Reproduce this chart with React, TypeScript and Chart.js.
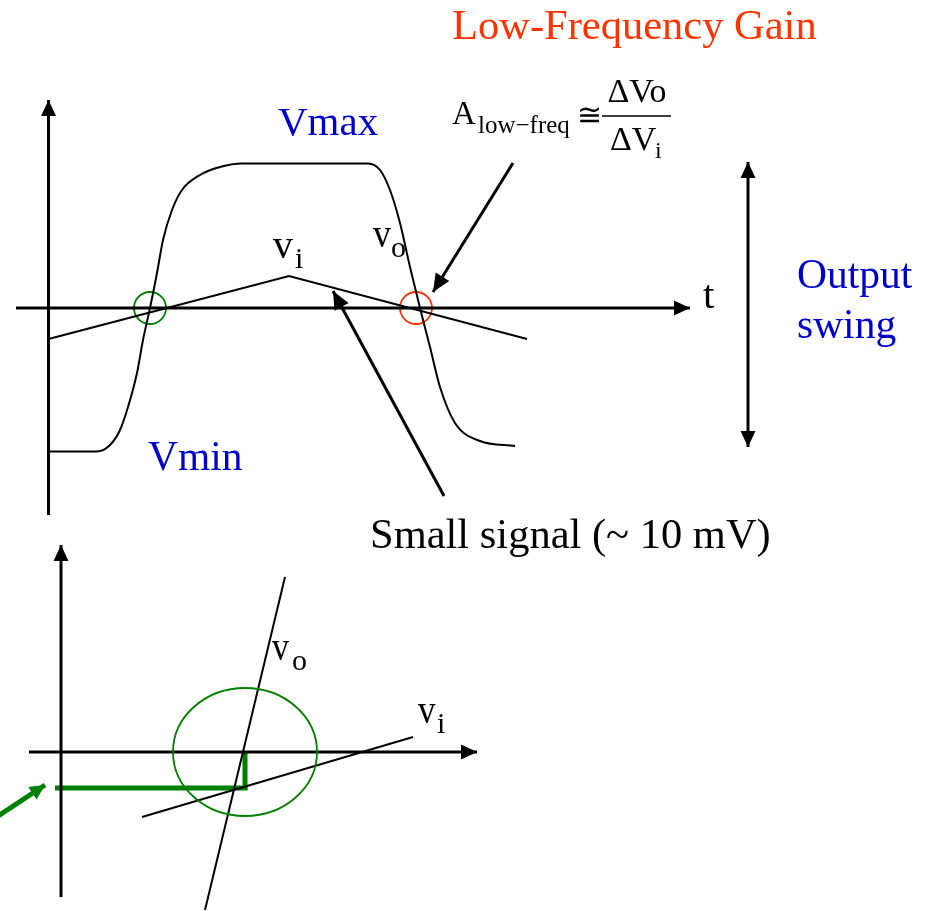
import React, { useEffect, useRef } from "react";
import { Chart, registerables } from "chart.js";

Chart.register(...registerables);

type P = { x: number; y: number };

// ---- Upper diagram: time-domain waveforms (diagram units, y grows downward) ----
const upperYAxis: P[] = [{ x: 48.5, y: 515 }, { x: 48.5, y: 100 }];
const upperTAxis: P[] = [{ x: 16, y: 308 }, { x: 690, y: 308 }];
const outputVo: P[] = [
  { x: 48.5, y: 451.5 }, { x: 96.7, y: 451.5 }, { x: 110, y: 445 }, { x: 120, y: 430 },
  { x: 128, y: 407 }, { x: 137, y: 373 }, { x: 143, y: 340 }, { x: 150, y: 308 },
  { x: 157, y: 273 }, { x: 163, y: 240 }, { x: 172, y: 210 }, { x: 182, y: 190 },
  { x: 200, y: 175 }, { x: 220, y: 167 }, { x: 242, y: 163.5 }, { x: 368, y: 163.5 },
  { x: 380, y: 170 }, { x: 390, y: 190 }, { x: 400, y: 223 }, { x: 410, y: 267 },
  { x: 420, y: 308 }, { x: 430, y: 347 }, { x: 440, y: 387 }, { x: 455, y: 423 },
  { x: 480, y: 441 }, { x: 515, y: 446 },
];
const inputVi: P[] = [{ x: 48.5, y: 339 }, { x: 289, y: 276 }, { x: 527, y: 339 }];
const gainArrow: P[] = [{ x: 513, y: 163 }, { x: 433, y: 292 }];
const smallSignalArrow: P[] = [{ x: 444, y: 496 }, { x: 333, y: 291 }];
const swingArrow: P[] = [{ x: 748, y: 447 }, { x: 748, y: 162 }];
const crossingGreen: P[] = [{ x: 150, y: 308 }];
const crossingRed: P[] = [{ x: 416, y: 308 }];

// ---- Lower diagram: transfer view ----
const lowerYAxis: P[] = [{ x: 61, y: 897 }, { x: 61, y: 545 }];
const lowerXAxis: P[] = [{ x: 29, y: 752 }, { x: 477, y: 752 }];
const transferVo: P[] = [{ x: 205, y: 910 }, { x: 285, y: 577 }];
const transferVi: P[] = [{ x: 142, y: 817 }, { x: 413, y: 737 }];
const stepHorizontal: P[] = [{ x: 55, y: 788 }, { x: 247.5, y: 788 }];
const stepVertical: P[] = [{ x: 245, y: 752 }, { x: 245, y: 790 }];
const greenPointer: P[] = [{ x: -2, y: 816 }, { x: 45, y: 785 }];
const ellipseCenter: P = { x: 245, y: 752 };
const ellipseRadii: P = { x: 72, y: 64 };

const SERIF = '"Liberation Serif", "Times New Roman", serif';
const BLUE = "#0000CC";
const ORANGE = "#FF3300";
const GREEN = "#008000";

type Label = { text: string; x: number; y: number; size: number; color: string; align?: CanvasTextAlign; base?: CanvasTextBaseline; sy?: number };
const labels: Label[] = [
  { text: "Low-Frequency Gain", x: 452, y: 39, size: 42.5, color: ORANGE },
  { text: "Vmax", x: 278, y: 135, size: 41, color: BLUE },
  { text: "Vmin", x: 148, y: 470, size: 41.5, color: BLUE },
  { text: "Output", x: 797, y: 288, size: 41.5, color: BLUE },
  { text: "swing", x: 797, y: 338, size: 41.5, color: BLUE },
  { text: "t", x: 703, y: 308, size: 41, color: "#000" },
  { text: "Small signal (~ 10 mV)", x: 370, y: 548, size: 42.5, color: "#000" },
  { text: "v", x: 373, y: 247, size: 36, color: "#000", sy: 1.1 },
  { text: "o", x: 391, y: 257, size: 30, color: "#000" },
  { text: "v", x: 273, y: 258, size: 40, color: "#000" },
  { text: "i", x: 295, y: 268, size: 30, color: "#000" },
  { text: "v", x: 272, y: 660, size: 34, color: "#000", sy: 1.15 },
  { text: "o", x: 292, y: 670, size: 30, color: "#000" },
  { text: "v", x: 418, y: 723, size: 35, color: "#000", sy: 1.15 },
  { text: "i", x: 437, y: 733, size: 30, color: "#000" },
  { text: "A", x: 452, y: 124, size: 33, color: "#000" },
  { text: "low\u2212freq", x: 478, y: 133, size: 25, color: "#000" },
  { text: "\u2245", x: 577, y: 117, size: 30, color: "#000", base: "middle" },
  { text: "\u0394Vo", x: 637, y: 102, size: 34, color: "#000", align: "center" },
  { text: "\u0394V", x: 610, y: 150, size: 34, color: "#000" },
  { text: "i", x: 655, y: 158, size: 24, color: "#000" },
];
const fractionBar: P[] = [{ x: 602, y: 116 }, { x: 671, y: 116 }];

function lineSet(data: P[], color: string, width: number, extra: any = {}) {
  return {
    data,
    showLine: true,
    borderColor: color,
    backgroundColor: color,
    borderWidth: width,
    pointRadius: 0,
    pointHoverRadius: 0,
    fill: false,
    ...extra,
  };
}

const annotationPlugin = {
  id: "diagramAnnotations",
  afterDatasetsDraw(chart: any) {
    const ctx: CanvasRenderingContext2D = chart.ctx;
    const xs = chart.scales.x;
    const ys = chart.scales.y;
    const px = (p: P) => ({ x: xs.getPixelForValue(p.x), y: ys.getPixelForValue(p.y) });

    // arrowheads
    chart.data.datasets.forEach((ds: any, i: number) => {
      if (!ds.arrow) return;
      const pts = chart.getDatasetMeta(i).data;
      const heads: [any, any][] = [];
      heads.push([pts[pts.length - 2], pts[pts.length - 1]]);
      if (ds.arrow === "both") heads.push([pts[1], pts[0]]);
      const L = ds.headLen || 16;
      const W = ds.headHalf || 7.5;
      heads.forEach(([a, b]) => {
        const dx = b.x - a.x;
        const dy = b.y - a.y;
        const d = Math.hypot(dx, dy) || 1;
        const ux = dx / d, uy = dy / d;
        const bx = b.x - ux * L, by = b.y - uy * L;
        ctx.save();
        ctx.fillStyle = ds.borderColor;
        ctx.beginPath();
        ctx.moveTo(b.x, b.y);
        ctx.lineTo(bx - uy * W, by + ux * W);
        ctx.lineTo(bx + uy * W, by - ux * W);
        ctx.closePath();
        ctx.fill();
        ctx.restore();
      });
    });

    // green ellipse
    const c = px(ellipseCenter);
    const rx = Math.abs(xs.getPixelForValue(ellipseCenter.x + ellipseRadii.x) - c.x);
    const ry = Math.abs(ys.getPixelForValue(ellipseCenter.y + ellipseRadii.y) - c.y);
    ctx.save();
    ctx.strokeStyle = GREEN;
    ctx.lineWidth = 1.8;
    ctx.beginPath();
    ctx.ellipse(c.x, c.y, rx, ry, 0, 0, Math.PI * 2);
    ctx.stroke();
    ctx.restore();

    // fraction bar
    const f0 = px(fractionBar[0]);
    const f1 = px(fractionBar[1]);
    ctx.save();
    ctx.strokeStyle = "#000";
    ctx.lineWidth = 1.5;
    ctx.beginPath();
    ctx.moveTo(f0.x, f0.y);
    ctx.lineTo(f1.x, f1.y);
    ctx.stroke();
    ctx.restore();

    // text labels
    labels.forEach((l) => {
      const p = px(l);
      ctx.save();
      ctx.font = `${l.size}px ${SERIF}`;
      ctx.fillStyle = l.color;
      ctx.textAlign = l.align || "left";
      ctx.textBaseline = l.base || "alphabetic";
      ctx.translate(p.x, p.y);
      ctx.scale(1, l.sy || 1);
      ctx.fillText(l.text, 0, 0);
      ctx.restore();
    });
  },
};

export default function App() {
  const ref = useRef<HTMLCanvasElement | null>(null);

  useEffect(() => {
    if (!ref.current) return;
    const chart = new Chart(ref.current, {
      type: "scatter",
      data: {
        datasets: [
          lineSet(upperYAxis, "#000", 3, { arrow: "end" }),
          lineSet(upperTAxis, "#000", 3, { arrow: "end" }),
          lineSet(outputVo, "#000", 2, { cubicInterpolationMode: "monotone" }),
          lineSet(inputVi, "#000", 2),
          lineSet(gainArrow, "#000", 3, { arrow: "end", headLen: 18, headHalf: 8 }),
          lineSet(smallSignalArrow, "#000", 3, { arrow: "end", headLen: 18, headHalf: 8 }),
          lineSet(swingArrow, "#000", 3, { arrow: "both" }),
          {
            data: crossingGreen,
            showLine: false,
            pointRadius: 16,
            pointHoverRadius: 16,
            pointStyle: "circle",
            borderColor: GREEN,
            backgroundColor: "rgba(0,0,0,0)",
            borderWidth: 1.8,
          },
          {
            data: crossingRed,
            showLine: false,
            pointRadius: 16,
            pointHoverRadius: 16,
            pointStyle: "circle",
            borderColor: ORANGE,
            backgroundColor: "rgba(0,0,0,0)",
            borderWidth: 1.8,
          },
          lineSet(lowerYAxis, "#000", 3, { arrow: "end" }),
          lineSet(lowerXAxis, "#000", 3, { arrow: "end" }),
          lineSet(transferVo, "#000", 2),
          lineSet(transferVi, "#000", 2),
          lineSet(stepHorizontal, GREEN, 5),
          lineSet(stepVertical, GREEN, 5),
          lineSet(greenPointer, GREEN, 5, { arrow: "end", headLen: 15, headHalf: 7.5 }),
        ] as any,
      },
      options: {
        responsive: false,
        animation: false,
        devicePixelRatio: 1,
        layout: { padding: 0, autoPadding: false },
        events: [],
        scales: {
          x: { type: "linear", min: 0, max: 935, display: false },
          y: { type: "linear", min: 0, max: 911, reverse: true, display: false },
        },
        plugins: {
          legend: { display: false },
          tooltip: { enabled: false },
        },
      } as any,
      plugins: [annotationPlugin],
    });
    return () => chart.destroy();
  }, []);

  return (
    <div style={{ position: "fixed", left: 0, top: 0, width: 935, height: 911, background: "#fff" }}>
      <canvas ref={ref} width={935} height={911} style={{ display: "block" }} />
    </div>
  );
}
